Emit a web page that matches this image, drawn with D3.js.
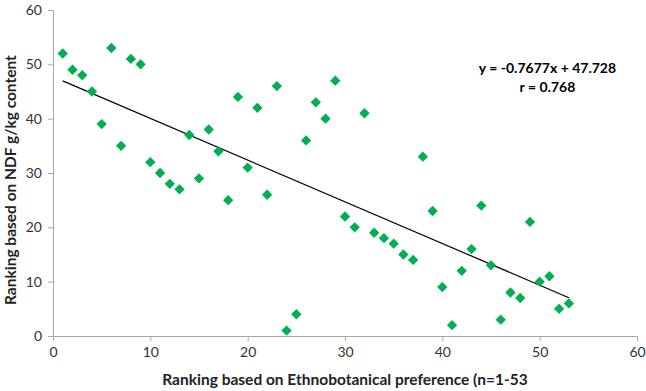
<!DOCTYPE html>
<html>
<head>
<meta charset="utf-8">
<script src="https://cdn.jsdelivr.net/npm/d3@7"></script>
<style>
  body { margin: 0; background: #fff; }
  svg text { font-family: Lato, "Open Sans", sans-serif; fill: #222; }
  .axis path, .axis line { stroke: #a6a6a6; }
  .axis text { font-size: 14px; fill: #333; }
</style>
</head>
<body>
<div id="chart"></div>
<script>
// ethnobotanical rank (x) vs NDF rank (y)
const ethnoRank = d3.range(1, 54);
const ndfRank = [52, 49, 48, 45, 39, 53, 35, 51, 50, 32,
                 30, 28, 27, 37, 29, 38, 34, 25, 44, 31,
                 42, 26, 46, 1, 4, 36, 43, 40, 47, 22,
                 20, 41, 19, 18, 17, 15, 14, 33, 23, 9,
                 2, 12, 16, 24, 13, 3, 8, 7, 21, 10,
                 11, 5, 6];
const xTicks = [0, 10, 20, 30, 40, 50, 60];
const yTicks = [0, 10, 20, 30, 40, 50, 60];
const slope = -0.7677, intercept = 47.728;
const eqLabel = "y = -0.7677x + 47.728";
const rLabel = "r = 0.768";

const data = ethnoRank.map((d, i) => ({ x: d, y: ndfRank[i] }));

const margin = { top: 10, right: 9, bottom: 55, left: 53 },
      width = 646 - margin.left - margin.right,
      height = 391 - margin.top - margin.bottom;

const svg = d3.select("#chart").append("svg")
    .attr("width", 646)
    .attr("height", 391)
  .append("g")
    .attr("transform", "translate(" + margin.left + "," + margin.top + ")");

const x = d3.scaleLinear().domain([0, 60]).range([0, width]);
const y = d3.scaleLinear().domain([0, 60]).range([height, 0]);

svg.append("g")
    .attr("class", "axis axis--x")
    .attr("transform", "translate(0," + height + ")")
    .call(d3.axisBottom(x).tickValues(xTicks).tickSize(5).tickPadding(6).tickSizeOuter(0));

svg.append("g")
    .attr("class", "axis axis--y")
    .call(d3.axisLeft(y).tickValues(yTicks).tickSize(5).tickPadding(6).tickSizeOuter(0));

// trend line
const ext = d3.extent(ethnoRank);
svg.append("line")
    .attr("x1", x(ext[0])).attr("y1", y(slope * ext[0] + intercept))
    .attr("x2", x(ext[1])).attr("y2", y(slope * ext[1] + intercept))
    .attr("stroke", "#000")
    .attr("stroke-width", 1.2);

// points (diamonds)
svg.selectAll(".pt")
  .data(data)
  .enter().append("path")
    .attr("class", "pt")
    .attr("d", d3.symbol().type(d3.symbolDiamond2).size(68))
    .attr("transform", d => "translate(" + x(d.x) + "," + y(d.y) + ")")
    .attr("fill", "#00b050");

// equation
svg.append("text")
    .attr("x", x(50.8)).attr("y", y(48.4))
    .attr("text-anchor", "middle")
    .style("font-size", "14px").style("font-weight", "bold").style("fill", "#000")
    .text(eqLabel);
svg.append("text")
    .attr("x", x(50.8)).attr("y", y(45.0))
    .attr("text-anchor", "middle")
    .style("font-size", "14px").style("font-weight", "bold").style("fill", "#000")
    .text(rLabel);

// axis titles
svg.append("text")
    .attr("x", x(30)).attr("y", height + 49)
    .attr("text-anchor", "middle")
    .style("font-size", "15.5px").style("font-weight", "bold")
    .text("Ranking based on Ethnobotanical preference (n=1-53");

svg.append("text")
    .attr("transform", "translate(" + (-37) + "," + y(28.7) + ") rotate(-90)")
    .attr("text-anchor", "middle")
    .style("font-size", "15.5px").style("font-weight", "bold")
    .text("Ranking based on NDF g/kg content");
</script>
</body>
</html>
